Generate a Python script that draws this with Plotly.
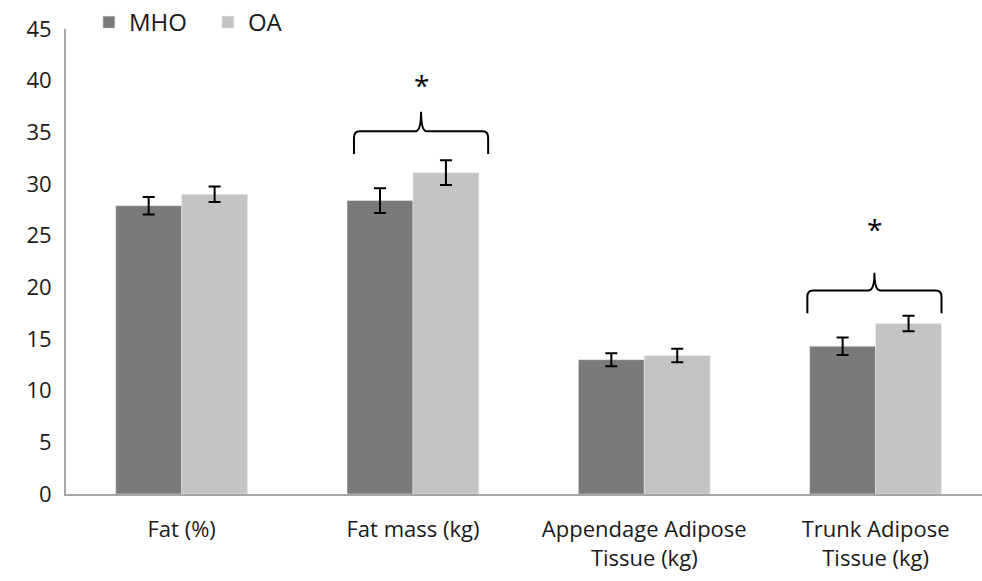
import plotly.graph_objects as go

categories = ["Fat (%)", "Fat mass (kg)", "Appendage Adipose<br>Tissue (kg)", "Trunk Adipose<br>Tissue (kg)"]
mho_values = [27.9, 28.4, 13.0, 14.3]
mho_err = [0.85, 1.2, 0.63, 0.85]
oa_values = [29.0, 31.1, 13.4, 16.5]
oa_err = [0.75, 1.2, 0.66, 0.75]
y_ticks = [0, 5, 10, 15, 20, 25, 30, 35, 40, 45]
# significance brackets: (bracket centre on category axis, half width, leg bottom, bar level, tip level, star level)
sig = [(1.035, 0.29, 32.9, 35.1, 37.0, 39.6), (2.995, 0.29, 17.5, 19.7, 21.4, 25.6)]

FONT = "Open Sans, sans-serif"
x = list(range(len(categories)))

fig = go.Figure()
fig.add_trace(go.Bar(x=x, y=mho_values, name="MHO", marker_color="#7a7a7a",
                     error_y=dict(type="data", array=mho_err, color="black", thickness=2, width=6)))
fig.add_trace(go.Bar(x=x, y=oa_values, name="OA", marker_color="#c4c4c4",
                     error_y=dict(type="data", array=oa_err, color="black", thickness=2, width=6)))

for c, w, yb, yh, yt, ys in sig:
    r = 0.025
    d = 0.6
    path = (f"M {c-w},{yb} L {c-w},{yh-d} Q {c-w},{yh} {c-w+r},{yh} "
            f"L {c-r},{yh} Q {c},{yh} {c},{yt} Q {c},{yh} {c+r},{yh} "
            f"L {c+w-r},{yh} Q {c+w},{yh} {c+w},{yh-d} L {c+w},{yb}")
    fig.add_shape(type="path", path=path, xref="x", yref="y",
                  line=dict(color="black", width=2))
    fig.add_annotation(x=c, y=ys, text="*", showarrow=False, xref="x", yref="y",
                       font=dict(size=28, color="black", family=FONT))

fig.update_layout(
    width=982, height=581,
    margin=dict(l=66, r=0, t=27, b=87),
    plot_bgcolor="white", paper_bgcolor="white",
    barmode="group", bargap=0.43, bargroupgap=0,
    font=dict(family=FONT, size=22, color="#1a1a1a"),
    legend=dict(orientation="h", x=0.025, y=1.015, xanchor="left", yanchor="middle",
                font=dict(size=24), itemwidth=30, tracegroupgap=0,
                entrywidth=74, entrywidthmode="pixels",
                bgcolor="rgba(0,0,0,0)"),
    showlegend=True,
)
fig.update_xaxes(range=[-0.5, 3.46], tickvals=x, ticktext=categories,
                 showline=True, linecolor="#a6a6a6", linewidth=2,
                 showgrid=False, zeroline=False, ticks="", ticklabelstandoff=15)
fig.update_yaxes(range=[0, 45], tickvals=y_ticks, showline=True, linecolor="#a6a6a6",
                 linewidth=2, showgrid=False, zeroline=False, ticks="",
                 ticklabelstandoff=8)

fig.write_html("out.html")
